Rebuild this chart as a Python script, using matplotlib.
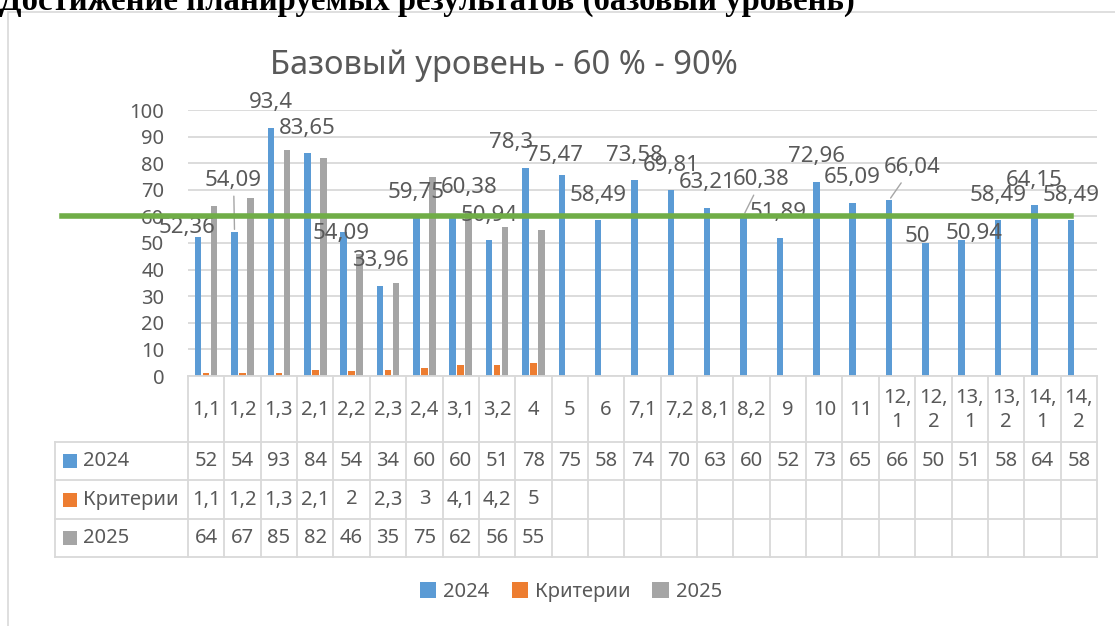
import numpy as np
import matplotlib
matplotlib.use("Agg")
import matplotlib.pyplot as plt
import matplotlib.transforms as mtransforms
from matplotlib.patches import Patch, Rectangle
from matplotlib.lines import Line2D

plt.rcParams["font.family"] = ["Noto Sans", "DejaVu Sans"]

# ── data ──
categories = ["1,1", "1,2", "1,3", "2,1", "2,2", "2,3", "2,4", "3,1", "3,2", "4", "5", "6",
              "7,1", "7,2", "8,1", "8,2", "9", "10", "11", "12,1", "12,2", "13,1", "13,2",
              "14,1", "14,2"]
vals_2024 = [52.36, 54.09, 93.4, 83.65, 54.09, 33.96, 59.75, 60.38, 50.94, 78.3, 75.47, 58.49,
             73.58, 69.81, 63.21, 60.38, 51.89, 72.96, 65.09, 66.04, 50, 50.94, 58.49, 64.15, 58.49]
criteria = [1.1, 1.2, 1.3, 2.1, 2, 2.3, 3, 4.1, 4.2, 5]
vals_2025 = [64, 67, 85, 82, 46, 35, 75, 62, 56, 55]
base_level = 60

series_names = ["2024", "Критерии", "2025"]
series_colors = ["#5B9BD5", "#ED7D31", "#A5A5A5"]
TEXT = "#595959"
GRID = "#D9D9D9"
GREEN = "#70AD47"

# label nudges for the 2024 series (pixels), default is straight above the bar
label_shift = {0: (-11, 9), 1: (-1, 52), 4: (-3, -1), 7: (16, 28), 9: (-14, 25),
               10: (-7, 20), 15: (18, 36), 16: (-2, 25), 19: (23, 33), 20: (-8, 6),
               21: (12, 7)}
leader = {1, 15, 19}

W, H = 1115, 626


def fx(px):
    return px / W


def fy(py):
    return 1 - py / H


def fmt(v):
    return f"{v:g}".replace(".", ",")


fig = plt.figure(figsize=(W / 100, H / 100), dpi=100)

# outer chart frame
fig.add_artist(Rectangle((fx(8), -0.1), 1.2, fy(12) + 0.1, transform=fig.transFigure,
                         fill=False, edgecolor=GRID, lw=1.2))

fig.text(fx(-1), fy(10), "Достижение планируемых результатов (базовый уровень)",
         family="Liberation Serif", weight="bold", fontsize=23.6, ha="left", va="baseline",
         color="black")
fig.text(fx(504), fy(74), "Базовый уровень - 60 % - 90%", ha="center", va="baseline",
         fontsize=23.5, color=TEXT)

# ── chart ──
ax = fig.add_axes([fx(188), fy(376), fx(1097) - fx(188), (376 - 110) / H])
n = len(categories)
x = np.arange(n)
bw, step = 0.18, 0.22
ax.bar(x - step, vals_2024, bw, color=series_colors[0], zorder=2)
ax.bar(x[:len(criteria)], criteria, bw, color=series_colors[1], zorder=2)
ax.bar(x[:len(vals_2025)] + step, vals_2025, bw, color=series_colors[2], zorder=2)

ax.set_xlim(-0.5, n - 0.5)
ax.set_ylim(0, 100)
ax.set_yticks(range(0, 101, 10))
ax.set_xticks([])
ax.yaxis.grid(True, color=GRID, lw=1.3)
ax.set_axisbelow(True)
for s in ["top", "left", "right"]:
    ax.spines[s].set_visible(False)
ax.spines["bottom"].set_color(GRID)
ax.spines["bottom"].set_linewidth(1.3)
ax.tick_params(axis="y", length=0, pad=17, labelsize=14.5, labelcolor=TEXT)

for i, v in enumerate(vals_2024):
    dx, dy = label_shift.get(i, (0, 25))
    arrow = dict(arrowstyle="-", color="#A6A6A6", lw=1) if i in leader else None
    ax.annotate(fmt(v), xy=(i - step, v), xytext=(dx, dy), textcoords="offset pixels",
                ha="center", va="center", fontsize=16, color=TEXT, arrowprops=arrow,
                annotation_clip=False, zorder=5)

# green base-level line drawn over the chart
trans = mtransforms.blended_transform_factory(fig.transFigure, ax.transData)
fig.add_artist(Line2D([fx(62), fx(1071)], [base_level, base_level], transform=trans,
                      color=GREEN, lw=4, zorder=10))

# ── data table ──
tax = fig.add_axes([fx(188), fy(557), fx(1097) - fx(188), (557 - 376) / H])
tax.set_xlim(-0.5, n - 0.5)
tax.set_ylim(181, 0)
tax.axis("off")
unit = (1097 - 188) / n
left = -0.5 - (188 - 55) / unit
row_edges = [0, 66, 104, 143, 181]

for k in range(n + 1):
    tax.plot([k - 0.5, k - 0.5], [0, 181], color=GRID, lw=1.3, clip_on=False)
tax.plot([left, left], [66, 181], color=GRID, lw=1.3, clip_on=False)
for e in row_edges[1:]:
    tax.plot([left, n - 0.5], [e, e], color=GRID, lw=1.3, clip_on=False)

for i, c in enumerate(categories):
    lab = c.replace(",", ",\n") if len(c) > 3 else c
    tax.text(i, 34, lab, ha="center", va="center", fontsize=14.5, color=TEXT,
             linespacing=1.3)

rows = [
    [f"{v:.0f}" for v in vals_2024],
    [fmt(v) for v in criteria],
    [f"{v:.0f}" for v in vals_2025],
]
for r, (name, col, cells) in enumerate(zip(series_names, series_colors, rows)):
    yc = (row_edges[r + 1] + row_edges[r + 2]) / 2
    tax.add_patch(Rectangle((left + 8 / unit, yc - 7), 14 / unit, 14, facecolor=col,
                            edgecolor="none", clip_on=False))
    tax.text(left + 28 / unit, yc, name, ha="left", va="center", fontsize=14.5, color=TEXT,
             clip_on=False)
    for i, t in enumerate(cells):
        tax.text(i, yc, t, ha="center", va="center", fontsize=14.5, color=TEXT)

handles = [Patch(facecolor=c, label=s) for s, c in zip(series_names, series_colors)]
fig.legend(handles=handles, loc="center", bbox_to_anchor=(fx(571), fy(592)), ncol=3,
           frameon=False, fontsize=14.5, labelcolor=TEXT, handlelength=0.8,
           handleheight=0.8, handletextpad=0.35, columnspacing=1.1)

fig.savefig("out.png", dpi=100)
